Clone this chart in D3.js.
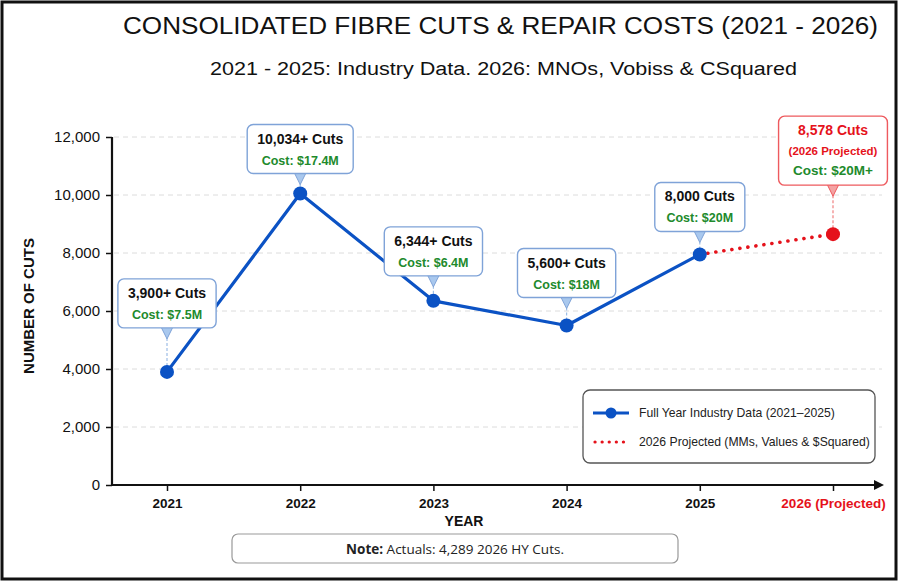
<!DOCTYPE html>
<html>
<head>
<meta charset="utf-8">
<script src="https://cdn.jsdelivr.net/npm/d3@7"></script>
<style>
  html, body { margin: 0; padding: 0; background: #fff; }
  svg { display: block; font-family: "Liberation Sans", Arial, sans-serif; }
</style>
</head>
<body>
<div id="chart"></div>
<script>
// chart data
const years      = ["2021", "2022", "2023", "2024", "2025", "2026"];
const yearLabels = ["2021", "2022", "2023", "2024", "2025", "2026 (Projected)"];
const cuts       = [3900, 10050, 6350, 5500, 7950, 8650];
const cutLabels  = ["3,900+ Cuts", "10,034+ Cuts", "6,344+ Cuts", "5,600+ Cuts", "8,000 Cuts", "8,578 Cuts"];
const costLabels = ["Cost: $7.5M", "Cost: $17.4M", "Cost: $6.4M", "Cost: $18M", "Cost: $20M", "Cost: $20M+"];
const yTicks     = [0, 2000, 4000, 6000, 8000, 10000, 12000];
const legendLabels = ["Full Year Industry Data (2021\u20132025)", "2026 Projected (MMs, Values & $Squared)"];

// layout: gap between callout box and its point
const calloutGap = [44, 20, 25, 28, 23, 49];

const W = 901, H = 583;
const BLUE = "#0b52c4", RED = "#e5121b", GREEN = "#218a2c";

const svg = d3.select("#chart").append("svg")
  .attr("width", W).attr("height", H);

// 1) background + frame
svg.append("rect").attr("x", 2).attr("y", 2).attr("width", 894).attr("height", 577)
  .attr("fill", "#fff").attr("stroke", "#111").attr("stroke-width", 3);

// 2) titles
svg.append("text").attr("x", 123).attr("y", 33.5)
  .attr("font-size", 23).attr("fill", "#111")
  .attr("textLength", 755).attr("lengthAdjust", "spacingAndGlyphs")
  .text("CONSOLIDATED FIBRE CUTS & REPAIR COSTS (2021 - 2026)");
svg.append("text").attr("x", 210).attr("y", 75)
  .attr("font-size", 18).attr("fill", "#111")
  .attr("textLength", 587).attr("lengthAdjust", "spacingAndGlyphs")
  .text("2021 - 2025: Industry Data. 2026: MNOs, Vobiss & CSquared");

// 3) scales
const x = d3.scalePoint().domain(years).range([167, 833]);
const y = d3.scaleLinear().domain([0, 12000]).range([485, 137]);
const x0 = 112, xEnd = 882;

// gridlines
svg.append("g").selectAll("line")
  .data(yTicks.filter(d => d > 0))
  .enter().append("line")
    .attr("x1", x0 + 2).attr("x2", xEnd)
    .attr("y1", d => y(d)).attr("y2", d => y(d))
    .attr("stroke", "#dcdcdc").attr("stroke-width", 1)
    .attr("stroke-dasharray", "5,4");

// y axis
const yAxis = svg.append("g").attr("transform", `translate(${x0},0)`)
  .call(d3.axisLeft(y).tickValues(yTicks).tickFormat(d3.format(",")).tickSize(6).tickPadding(6));
yAxis.select(".domain").attr("stroke", "#111").attr("stroke-width", 2.2).attr("d", `M0,${y(0)}V${y(12000)}`);
yAxis.selectAll(".tick line").attr("stroke", "#111").attr("stroke-width", 1.5);
yAxis.selectAll(".tick text").attr("font-size", 15).attr("fill", "#111")
  .attr("font-family", "Liberation Sans, Arial, sans-serif");

// x axis
const xAxis = svg.append("g").attr("transform", `translate(0,${y(0)})`)
  .call(d3.axisBottom(x).tickFormat((d, i) => yearLabels[i]).tickSize(6).tickPadding(7));
xAxis.select(".domain").remove();
xAxis.selectAll(".tick line").attr("stroke", "#111").attr("stroke-width", 1.5);
xAxis.selectAll(".tick text").attr("font-size", 13.5).attr("font-weight", "bold")
  .attr("font-family", "Liberation Sans, Arial, sans-serif")
  .attr("fill", (d, i) => i === years.length - 1 ? RED : "#111");
svg.append("line").attr("x1", x0).attr("x2", xEnd - 4)
  .attr("y1", y(0)).attr("y2", y(0))
  .attr("stroke", "#111").attr("stroke-width", 2.2);
svg.append("path")
  .attr("d", `M${xEnd - 8},${y(0) - 5}L${xEnd + 2},${y(0)}L${xEnd - 8},${y(0) + 5}Z`)
  .attr("fill", "#111");

// axis titles
svg.append("text").attr("x", 464).attr("y", 526)
  .attr("text-anchor", "middle").attr("font-size", 14).attr("font-weight", "bold")
  .attr("fill", "#111").text("YEAR");
svg.append("text").attr("transform", "translate(34,306) rotate(-90)")
  .attr("text-anchor", "middle").attr("font-size", 15).attr("font-weight", "bold")
  .attr("fill", "#111").text("NUMBER OF CUTS");

// 4) lines
const pts = years.map((yr, i) => ({ yr, v: cuts[i], i }));
const line = d3.line().x(d => x(d.yr)).y(d => y(d.v));
svg.append("path").datum(pts.slice(0, 5))
  .attr("d", line).attr("fill", "none")
  .attr("stroke", BLUE).attr("stroke-width", 3.2).attr("stroke-linejoin", "round");
svg.append("path").datum(pts.slice(4))
  .attr("d", line).attr("fill", "none")
  .attr("stroke", RED).attr("stroke-width", 3.6)
  .attr("stroke-linecap", "round").attr("stroke-dasharray", "0.1,8");

// 5) callouts
const callouts = svg.append("g");
pts.forEach(d => {
  const proj = d.i === years.length - 1;
  const px = x(d.yr), py = y(d.v);
  const g = callouts.append("g");
  const lines = proj
    ? [{ t: cutLabels[d.i], c: RED, s: 14 }, { t: "(2026 Projected)", c: RED, s: 11.5 }, { t: costLabels[d.i], c: GREEN, s: 13.5 }]
    : [{ t: cutLabels[d.i], c: "#111", s: 14 }, { t: costLabels[d.i], c: GREEN, s: 12.5 }];
  const lh = proj ? 20 : 21;
  const boxH = proj ? 69 : 49;
  const boxBottom = py - calloutGap[d.i];
  const boxTop = boxBottom - boxH;
  const txt = g.append("g");
  lines.forEach((l, k) => {
    txt.append("text").attr("x", px).attr("y", boxTop + 19 + k * lh)
      .attr("text-anchor", "middle").attr("font-size", l.s).attr("font-weight", "bold")
      .attr("fill", l.c).text(l.t);
  });
  const tw = d3.max(txt.selectAll("text").nodes(), n => n.getComputedTextLength());
  const boxW = tw + 20;
  const stroke = proj ? "#ee5a5e" : "#7fa3d8";
  const tipFill = proj ? "#f4a3a3" : "#a9c8ee";
  // dashed leader line
  g.insert("line", ":first-child")
    .attr("x1", px).attr("x2", px).attr("y1", boxBottom + 10).attr("y2", py)
    .attr("stroke", proj ? "#f08080" : "#9dbde6").attr("stroke-width", 1.2)
    .attr("stroke-dasharray", "3,2");
  g.insert("path", "g")
    .attr("d", `M${px - 6},${boxBottom - 1}L${px},${boxBottom + 11}L${px + 6},${boxBottom - 1}Z`)
    .attr("fill", tipFill).attr("stroke", stroke).attr("stroke-width", 1);
  g.insert("rect", "g")
    .attr("x", px - boxW / 2).attr("y", boxTop).attr("width", boxW).attr("height", boxH)
    .attr("rx", 6).attr("fill", "#fff").attr("stroke", stroke).attr("stroke-width", 1.4);
});

// points
svg.append("g").selectAll("circle")
  .data(pts).enter().append("circle")
    .attr("cx", d => x(d.yr)).attr("cy", d => y(d.v)).attr("r", 7)
    .attr("fill", d => d.i === years.length - 1 ? RED : BLUE);

// 6) legend
const lg = svg.append("g").attr("transform", "translate(583,390)");
lg.append("rect").attr("width", 292).attr("height", 73).attr("rx", 7)
  .attr("fill", "#fff").attr("stroke", "#555").attr("stroke-width", 1.3);
lg.append("line").attr("x1", 10).attr("x2", 46).attr("y1", 23).attr("y2", 23)
  .attr("stroke", BLUE).attr("stroke-width", 3);
lg.append("circle").attr("cx", 28).attr("cy", 23).attr("r", 5.5).attr("fill", BLUE);
lg.append("line").attr("x1", 12).attr("x2", 46).attr("y1", 52).attr("y2", 52)
  .attr("stroke", RED).attr("stroke-width", 3.2)
  .attr("stroke-linecap", "round").attr("stroke-dasharray", "0.1,7");
legendLabels.forEach((t, i) => {
  lg.append("text").attr("x", 56).attr("y", 27 + i * 29)
    .attr("font-size", 12.2).attr("fill", "#222").text(t);
});

// 7) note box
const note = svg.append("g");
note.append("rect").attr("x", 232).attr("y", 534).attr("width", 446).attr("height", 29)
  .attr("rx", 6).attr("fill", "#fff").attr("stroke", "#999").attr("stroke-width", 1.2);
const nt = note.append("text").attr("x", 455).attr("y", 554)
  .attr("text-anchor", "middle").attr("font-size", 13.5).attr("fill", "#222")
  .attr("font-family", "'Open Sans', sans-serif");
nt.append("tspan").attr("font-weight", "bold").text("Note:");
nt.append("tspan").text(" Actuals: 4,289 2026 HY Cuts.");
</script>
</body>
</html>
